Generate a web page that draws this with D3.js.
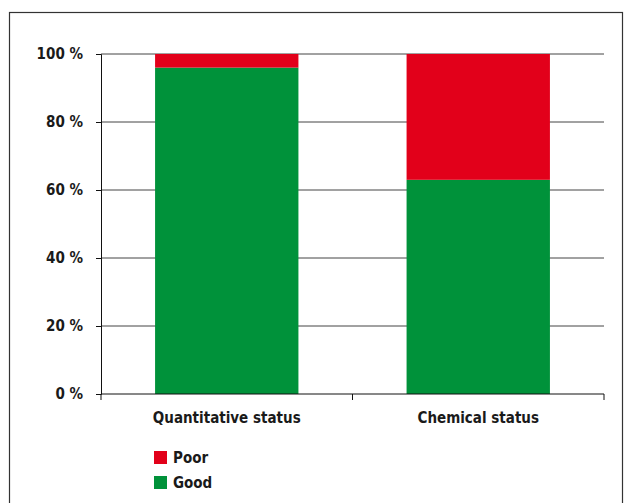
<!DOCTYPE html>
<html>
<head>
<meta charset="utf-8">
<script src="https://cdn.jsdelivr.net/npm/d3@7"></script>
<style>
  html, body { margin: 0; padding: 0; background: #fff; }
  text { font-family: "Liberation Sans Narrow", "DejaVu Sans Condensed", "Liberation Sans", sans-serif; font-weight: bold; fill: #1a1a1a; }
</style>
</head>
<body>
<svg id="chart" width="625" height="503"></svg>
<script>
// Share of groundwater bodies by status class (%)
const categories = ["Quantitative status", "Chemical status"];
const good = [96, 63];
const poor = [4, 37];
const yTicks = [0, 20, 40, 60, 80, 100];
const seriesNames = ["Poor", "Good"];
const colors = { Good: "#00923a", Poor: "#e2001a" };

const svg = d3.select("#chart");

// outer frame
svg.append("rect")
  .attr("x", 9.5).attr("y", 12.5)
  .attr("width", 613).attr("height", 500)
  .attr("fill", "none").attr("stroke", "#333").attr("stroke-width", 1.2);

const plotLeft = 101, plotRight = 604, plotTop = 54, plotBottom = 394;

const x = d3.scaleBand().domain(categories).range([plotLeft, plotRight]).paddingInner(0.43).paddingOuter(0.215);
const y = d3.scaleLinear().domain([0, 100]).range([plotBottom, plotTop]);

// horizontal gridlines
svg.append("g").selectAll("line")
  .data(yTicks.filter(d => d > 0))
  .join("line")
  .attr("x1", plotLeft).attr("x2", plotRight)
  .attr("y1", d => y(d)).attr("y2", d => y(d))
  .attr("stroke", "#444").attr("stroke-width", 1);

// stacked bars
const rows = categories.map((c, i) => ({ category: c, Good: good[i], Poor: poor[i] }));
const stack = d3.stack().keys(["Good", "Poor"])(rows);
svg.append("g").selectAll("g")
  .data(stack)
  .join("g")
  .attr("fill", s => colors[s.key])
  .selectAll("rect")
  .data(s => s)
  .join("rect")
  .attr("x", d => x(d.data.category))
  .attr("width", x.bandwidth())
  .attr("y", d => y(d[1]))
  .attr("height", d => y(d[0]) - y(d[1]));

// y axis
const yAxis = svg.append("g")
  .attr("transform", `translate(${plotLeft},0)`)
  .call(d3.axisLeft(y).tickValues(yTicks).tickSize(5).tickPadding(13).tickFormat(d => d + " %"));
yAxis.select(".domain").attr("stroke", "#111");
yAxis.selectAll(".tick line").attr("stroke", "#111");
yAxis.selectAll("text").style("font-size", "15px");

// x axis with ticks at the category boundaries
const xAxisG = svg.append("g");
xAxisG.append("line")
  .attr("x1", plotLeft).attr("x2", plotRight).attr("y1", plotBottom).attr("y2", plotBottom)
  .attr("stroke", "#111");
const boundaryTicks = [plotLeft, (x(categories[0]) + x.bandwidth() + x(categories[1])) / 2, plotRight];
xAxisG.selectAll("line.tk")
  .data(boundaryTicks)
  .join("line")
  .attr("class", "tk")
  .attr("x1", d => d).attr("x2", d => d)
  .attr("y1", plotBottom).attr("y2", plotBottom + 6)
  .attr("stroke", "#111");
xAxisG.selectAll("text")
  .data(categories)
  .join("text")
  .attr("x", d => x(d) + x.bandwidth() / 2)
  .attr("y", 423)
  .attr("text-anchor", "middle")
  .style("font-size", "15px")
  .text(d => d);

// legend
const legend = svg.append("g").attr("transform", "translate(154,451)");
const items = legend.selectAll("g")
  .data(seriesNames)
  .join("g")
  .attr("transform", (d, i) => `translate(0,${i * 25})`);
items.append("rect")
  .attr("width", 13).attr("height", 13)
  .attr("fill", d => colors[d]);
items.append("text")
  .attr("x", 19).attr("y", 12)
  .style("font-size", "15px")
  .text(d => d);
</script>
</body>
</html>
